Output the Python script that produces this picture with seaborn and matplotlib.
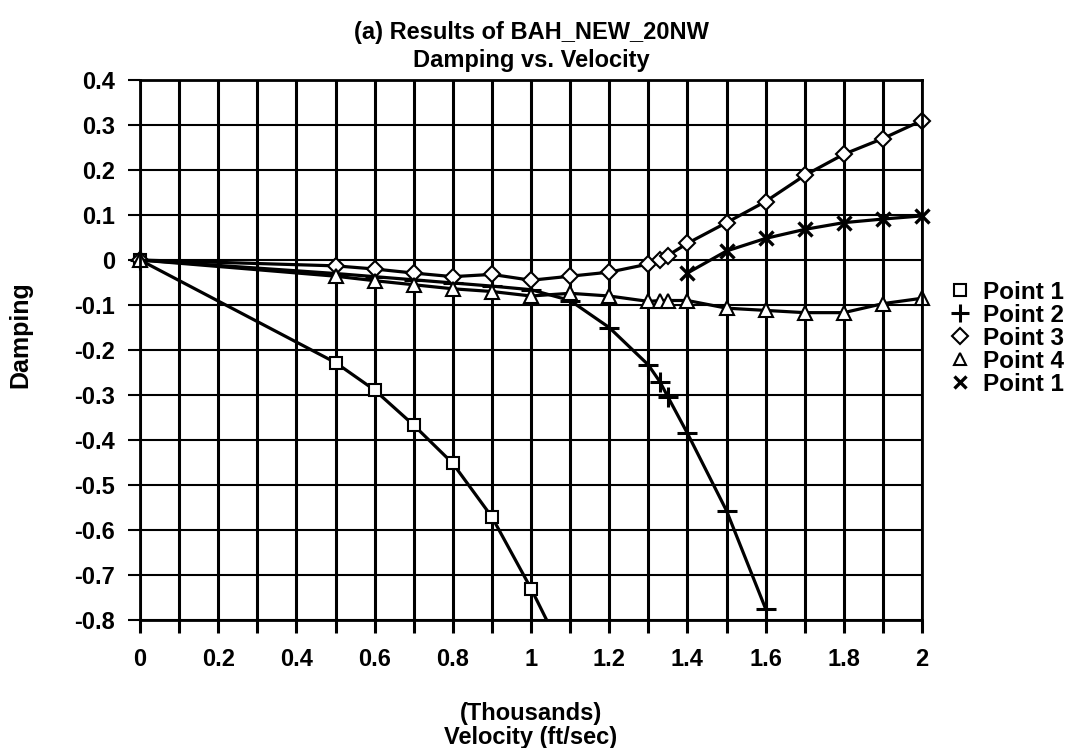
import numpy as np
import pandas as pd
import matplotlib
matplotlib.use('Agg')
import matplotlib.pyplot as plt
from matplotlib.lines import Line2D
import seaborn as sns

# data (velocity in thousands of ft/sec)
p1_x = [0, 0.5, 0.6, 0.7, 0.8, 0.9, 1.0, 1.1]
p1_y = [0, -0.228, -0.289, -0.367, -0.452, -0.571, -0.730, -0.905]

p2_x = [0, 0.5, 0.6, 0.7, 0.8, 0.9, 1.0, 1.1, 1.2, 1.3, 1.33, 1.35, 1.4, 1.5, 1.6]
p2_y = [0, -0.030, -0.037, -0.044, -0.051, -0.058, -0.066, -0.090, -0.150,
        -0.233, -0.271, -0.304, -0.385, -0.557, -0.775]

p3_x = [0, 0.5, 0.6, 0.7, 0.8, 0.9, 1.0, 1.1, 1.2, 1.3, 1.33, 1.35, 1.4,
        1.5, 1.6, 1.7, 1.8, 1.9, 2.0]
p3_y = [0, -0.013, -0.020, -0.029, -0.037, -0.032, -0.045, -0.036, -0.027,
        -0.009, 0.0, 0.010, 0.037, 0.083, 0.130, 0.188, 0.235, 0.270, 0.310]

p4_x = [0, 0.5, 0.6, 0.7, 0.8, 0.9, 1.0, 1.1, 1.2, 1.3, 1.33, 1.35, 1.4,
        1.5, 1.6, 1.7, 1.8, 1.9, 2.0]
p4_y = [0, -0.036, -0.046, -0.055, -0.064, -0.070, -0.080, -0.074, -0.080,
        -0.092, -0.090, -0.090, -0.090, -0.107, -0.112, -0.117, -0.117,
        -0.097, -0.085]

p5_x = [1.4, 1.5, 1.6, 1.7, 1.8, 1.9, 2.0]
p5_y = [-0.029, 0.020, 0.048, 0.068, 0.083, 0.091, 0.098]

series_names = ['Point 1', 'Point 2', 'Point 3', 'Point 4', 'Point 1']
series = [(p1_x, p1_y), (p2_x, p2_y), (p3_x, p3_y), (p4_x, p4_y), (p5_x, p5_y)]
marker_styles = [
    dict(marker='s', markersize=9, markerfacecolor='white', markeredgewidth=1.5),
    dict(marker='+', markersize=15, markeredgewidth=2.2),
    dict(marker='D', markersize=8.5, markerfacecolor='white', markeredgewidth=1.5),
    dict(marker='^', markersize=10, markerfacecolor='white', markeredgewidth=1.5),
    dict(marker='x', markersize=10, markeredgewidth=2.4),
]

sns.set_theme(style='white')
plt.rcParams['font.family'] = ['Liberation Sans', 'DejaVu Sans']
plt.rcParams['font.weight'] = 'bold'
plt.rcParams['axes.titleweight'] = 'bold'
plt.rcParams['axes.labelweight'] = 'bold'
plt.rcParams['text.color'] = 'black'

fig = plt.figure(figsize=(10.75, 7.48), dpi=100)
ax = fig.add_axes([140 / 1075, 1 - 620 / 748, 782 / 1075, 540 / 748])

ymin, ymax = -0.8, 0.4
for (xs, ys), style in zip(series, marker_styles):
    df = pd.DataFrame({'x': xs, 'y': ys})
    # connecting line, clipped at the plot area
    sns.lineplot(data=df, x='x', y='y', ax=ax, color='black', linewidth=2.3,
                 sort=False)
    # markers drawn on top, not clipped at the frame
    pts = df[(df['y'] >= ymin) & (df['y'] <= ymax)]
    sns.lineplot(data=pts, x='x', y='y', ax=ax, color='black', linestyle='none',
                 sort=False, markeredgecolor='black', clip_on=False, **style)

ax.set_xlim(0, 2)
ax.set_ylim(ymin, ymax)
xt = np.arange(0, 2.01, 0.1)
ax.set_xticks(xt)
ax.set_xticklabels(['0' if abs(v) < 1e-9 else ('%g' % round(v, 1) if i % 2 == 0 else '')
                    for i, v in enumerate(xt)])
yt = np.arange(-0.8, 0.41, 0.1)
ax.set_yticks(yt)
ax.set_yticklabels(['0' if abs(v) < 1e-9 else '%.1f' % v for v in yt])

ax.grid(True, axis='x', color='black', linewidth=2.2)
ax.grid(True, axis='y', color='black', linewidth=1.5)
for s in ax.spines.values():
    s.set_color('black')
    s.set_linewidth(2.0)

ax.tick_params(axis='x', direction='out', length=9, width=2.2, pad=11,
               labelsize=17, colors='black', bottom=True)
ax.tick_params(axis='y', direction='out', length=9, width=1.5, pad=9,
               labelsize=17, colors='black', left=True)

ax.set_ylabel('Damping', fontsize=18, color='black')
ax.yaxis.set_label_coords(-0.137, 0.528)
ax.set_xlabel('(Thousands)\nVelocity (ft/sec)', fontsize=17, color='black',
              linespacing=1.05)
ax.xaxis.set_label_coords(0.5, -0.152)
ax.set_title('(a) Results of BAH_NEW_20NW\nDamping vs. Velocity',
             fontsize=17, color='black', pad=9, linespacing=1.3)

handles = [Line2D([], [], linestyle='none', color='black', markeredgecolor='black',
                  **{k: (v * 0.9 if k == 'markersize' else v) for k, v in st.items()})
           for st in marker_styles]
ax.legend(handles, series_names, loc='center left', bbox_to_anchor=(1.024, 0.522),
          frameon=False, handlelength=0.8, handletextpad=0.55, labelcolor='black',
          labelspacing=0.0, borderaxespad=0, prop={'weight': 'bold', 'size': 17.5})

fig.savefig('out.png', dpi=100)
